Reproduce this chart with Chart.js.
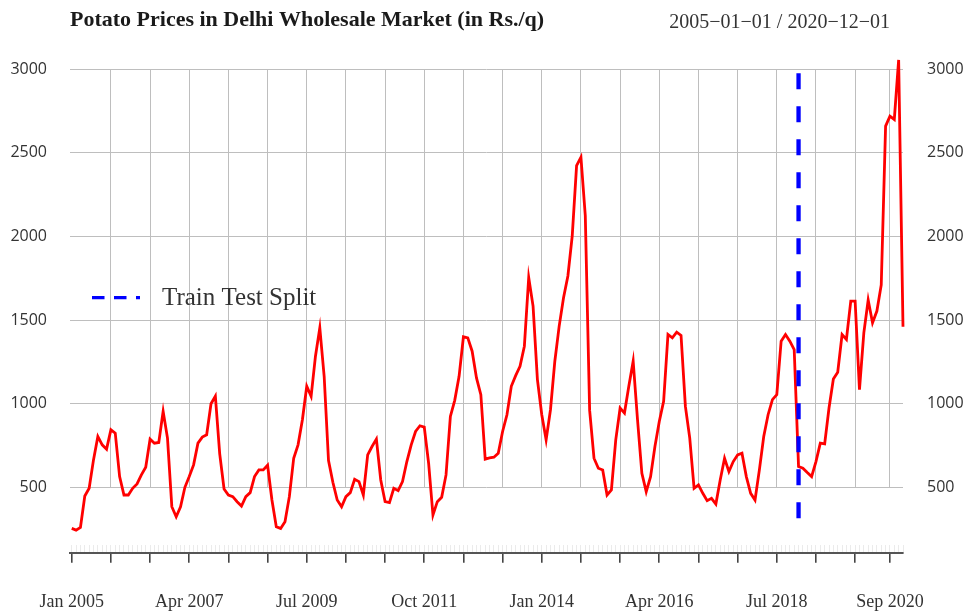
<!DOCTYPE html>
<html>
<head>
<meta charset="utf-8">
<script src="https://cdn.jsdelivr.net/npm/chart.js@4/dist/chart.umd.min.js"></script>
<style>
  html, body { margin: 0; padding: 0; background: #ffffff; }
  #wrap { width: 967px; height: 615px; }
</style>
</head>
<body>
<div id="wrap"><canvas id="c" width="967" height="615"></canvas></div>
<script>
// ---- Data (monthly, Jan 2005 .. Dec 2020), Rs./quintal ----
const startYear = 2005;
const monthNames = ['Jan','Feb','Mar','Apr','May','Jun','Jul','Aug','Sep','Oct','Nov','Dec'];
const prices = [
  254, 244, 260, 448, 494, 664, 804, 754, 728, 844, 824, 564,      // 2005
  454, 454, 494, 520, 574, 620, 788, 764, 768, 954, 794, 384,      // 2006
  324, 384, 500, 564, 634, 764, 800, 814, 1000, 1045, 700, 490,    // 2007
  454, 444, 414, 388, 444, 468, 564, 604, 604, 632, 424, 264,      // 2008
  254, 294, 444, 674, 754, 904, 1104, 1044, 1284, 1454, 1164, 660, // 2009
  530, 424, 384, 444, 468, 548, 534, 454, 694, 744, 788, 544,      // 2010
  414, 408, 494, 480, 534, 654, 754, 834, 868, 860, 644, 334,      // 2011
  414, 440, 574, 924, 1020, 1164, 1400, 1394, 1314, 1154, 1054, 668, // 2012
  676, 680, 704, 834, 934, 1104, 1168, 1224, 1344, 1754, 1584, 1144, // 2013
  934, 784, 964, 1254, 1464, 1634, 1764, 2004, 2424, 2474, 2124, 960, // 2014
  674, 614, 604, 454, 484, 784, 974, 944, 1104, 1254, 904, 584,    // 2015
  474, 564, 744, 894, 1014, 1414, 1394, 1428, 1408, 984, 794, 494, // 2016
  514, 464, 420, 434, 400, 544, 674, 594, 654, 694, 704, 564,      // 2017
  464, 424, 604, 804, 934, 1024, 1054, 1374, 1414, 1374, 1324, 624, // 2018
  614, 588, 564, 654, 764, 760, 974, 1148, 1188, 1414, 1384, 1614, // 2019
  1614, 1084, 1424, 1620, 1484, 1554, 1710, 2660, 2720, 2700, 3056, 1460 // 2020
];
// month index of the train/test split and the vertical extent of its marker
const splitMonth = [167, 167];
const splitValues = [2976, 300];
// axis ticks
const yTicks = [500, 1000, 1500, 2000, 2500, 3000];
const majorTickMonths = [0, 9, 18, 27, 36, 45, 54, 63, 72, 81, 90, 99, 108, 117, 126, 135, 144, 153, 162, 171, 180, 188];
const labelTickMonths = [0, 27, 54, 81, 108, 135, 162, 188];
const labelTickTexts = ['Jan 2005', 'Apr 2007', 'Jul 2009', 'Oct 2011', 'Jan 2014', 'Apr 2016', 'Jul 2018', 'Sep 2020'];
const titleText = 'Potato Prices in Delhi Wholesale Market (in Rs./q)';
const rangeText = '2005\u221201\u221201 / 2020\u221212\u221201';
const legendText = 'Train Test Split';

// categories (month labels) built from the start year
const categories = prices.map((_, i) => monthNames[i % 12] + ' ' + (startYear + Math.floor(i / 12)));
const seriesPoints = prices.map((v, i) => ({ x: i, y: v }));
const splitPoints = splitMonth.map((m, i) => ({ x: m, y: splitValues[i] }));
const monthTicks = prices.map((_, i) => i);
const labelMap = {};
labelTickMonths.forEach((m, i) => { labelMap[m] = labelTickTexts[i]; });

const X_MIN = -0.4, X_MAX = 191;
const textColor = '#333333';

const extrasPlugin = {
  id: 'extras',
  afterDraw(chart) {
    const ctx = chart.ctx;
    const ca = chart.chartArea;
    const ys = chart.scales.y;
    ctx.save();
    // date range, top right
    ctx.font = '20px "Liberation Serif"';
    ctx.fillStyle = textColor;
    ctx.textAlign = 'right';
    ctx.textBaseline = 'alphabetic';
    ctx.fillText(rangeText, chart.scales.x.getPixelForValue(188), 28);
    // legend
    const ly = ys.getPixelForValue(1635);
    ctx.strokeStyle = '#0000ff';
    ctx.lineWidth = 3.3;
    ctx.setLineDash([12.5, 9.5]);
    ctx.beginPath();
    ctx.moveTo(ca.left + 22, ly);
    ctx.lineTo(ca.left + 70, ly);
    ctx.stroke();
    ctx.setLineDash([]);
    ctx.font = '25px "Liberation Serif"';
    ctx.fillStyle = textColor;
    ctx.textAlign = 'left';
    ctx.textBaseline = 'middle';
    ctx.fillText(legendText, ca.left + 92, ly + 1);
    ctx.restore();
  }
};

new Chart(document.getElementById('c'), {
  type: 'line',
  data: {
    labels: categories,
    datasets: [
      {
        label: legendText,
        data: splitPoints,
        borderColor: '#0000ff',
        borderWidth: 4.3,
        borderDash: [16, 17],
        pointRadius: 0,
        fill: false,
        clip: false,
        xAxisID: 'x', yAxisID: 'y'
      },
      {
        label: 'Price',
        data: seriesPoints,
        borderColor: '#ff0000',
        borderWidth: 2.8,
        pointRadius: 0,
        tension: 0,
        fill: false,
        clip: false,
        xAxisID: 'x', yAxisID: 'y'
      }
    ]
  },
  options: {
    responsive: false,
    devicePixelRatio: 1,
    animation: false,
    parsing: true,
    layout: { padding: 0 },
    plugins: {
      legend: { display: false },
      tooltip: { enabled: false },
      title: {
        display: true,
        text: titleText,
        align: 'start',
        fullSize: false,
        color: '#1a1a1a',
        font: { family: 'Liberation Serif', size: 22, weight: 'bold' },
        padding: { top: 7.6, bottom: 35.3 }
      }
    },
    scales: {
      x: {
        type: 'linear', position: 'bottom', weight: 0,
        min: X_MIN, max: X_MAX,
        afterBuildTicks: s => { s.ticks = majorTickMonths.filter(m => m > 0).map(v => ({ value: v })); },
        ticks: { display: false },
        grid: { drawOnChartArea: true, drawTicks: false, color: '#bebebe', lineWidth: 1 },
        border: { display: false },
        afterFit: s => { s.height = 58; }
      },
      xm: {
        type: 'linear', position: 'bottom', weight: 1,
        min: X_MIN, max: X_MAX,
        afterBuildTicks: s => { s.ticks = monthTicks.map(v => ({ value: v })); },
        ticks: { display: false },
        grid: { drawOnChartArea: false, drawTicks: true, tickLength: 7.4, color: '#ebebeb', lineWidth: 1 },
        border: { display: false },
        afterFit: s => { s.height = 7.4; }
      },
      xb: {
        type: 'linear', position: 'bottom', weight: 2,
        min: X_MIN, max: X_MAX,
        afterBuildTicks: s => { s.ticks = majorTickMonths.map(v => ({ value: v })); },
        ticks: {
          autoSkip: false, maxRotation: 0, minRotation: 0, padding: 29,
          color: textColor,
          font: { family: 'Liberation Serif', size: 18 },
          callback: v => (labelMap[v] !== undefined ? labelMap[v] : '')
        },
        grid: { drawOnChartArea: false, drawTicks: true, tickLength: 10, color: '#444444', lineWidth: 1.6 },
        border: { display: true, color: '#555555', width: 2 },
        afterFit: s => { s.height = 62.3; }
      },
      y: {
        type: 'linear', position: 'left',
        min: 500, max: 3000,
        afterBuildTicks: s => { s.ticks = yTicks.map(v => ({ value: v })); },
        ticks: { padding: 23, color: textColor, font: { family: 'Open Sans', size: 16 }, callback: v => String(v) },
        grid: { drawTicks: false, color: '#bebebe', lineWidth: 1 },
        border: { display: false },
        afterFit: s => { s.width = 70; }
      },
      y2: {
        type: 'linear', position: 'right',
        min: 500, max: 3000,
        afterBuildTicks: s => { s.ticks = yTicks.map(v => ({ value: v })); },
        ticks: { padding: 24, color: textColor, font: { family: 'Open Sans', size: 16 }, callback: v => String(v) },
        grid: { drawOnChartArea: false, drawTicks: false },
        border: { display: false },
        afterFit: s => { s.width = 64; }
      }
    }
  },
  plugins: [extrasPlugin]
});
</script>
</body>
</html>
